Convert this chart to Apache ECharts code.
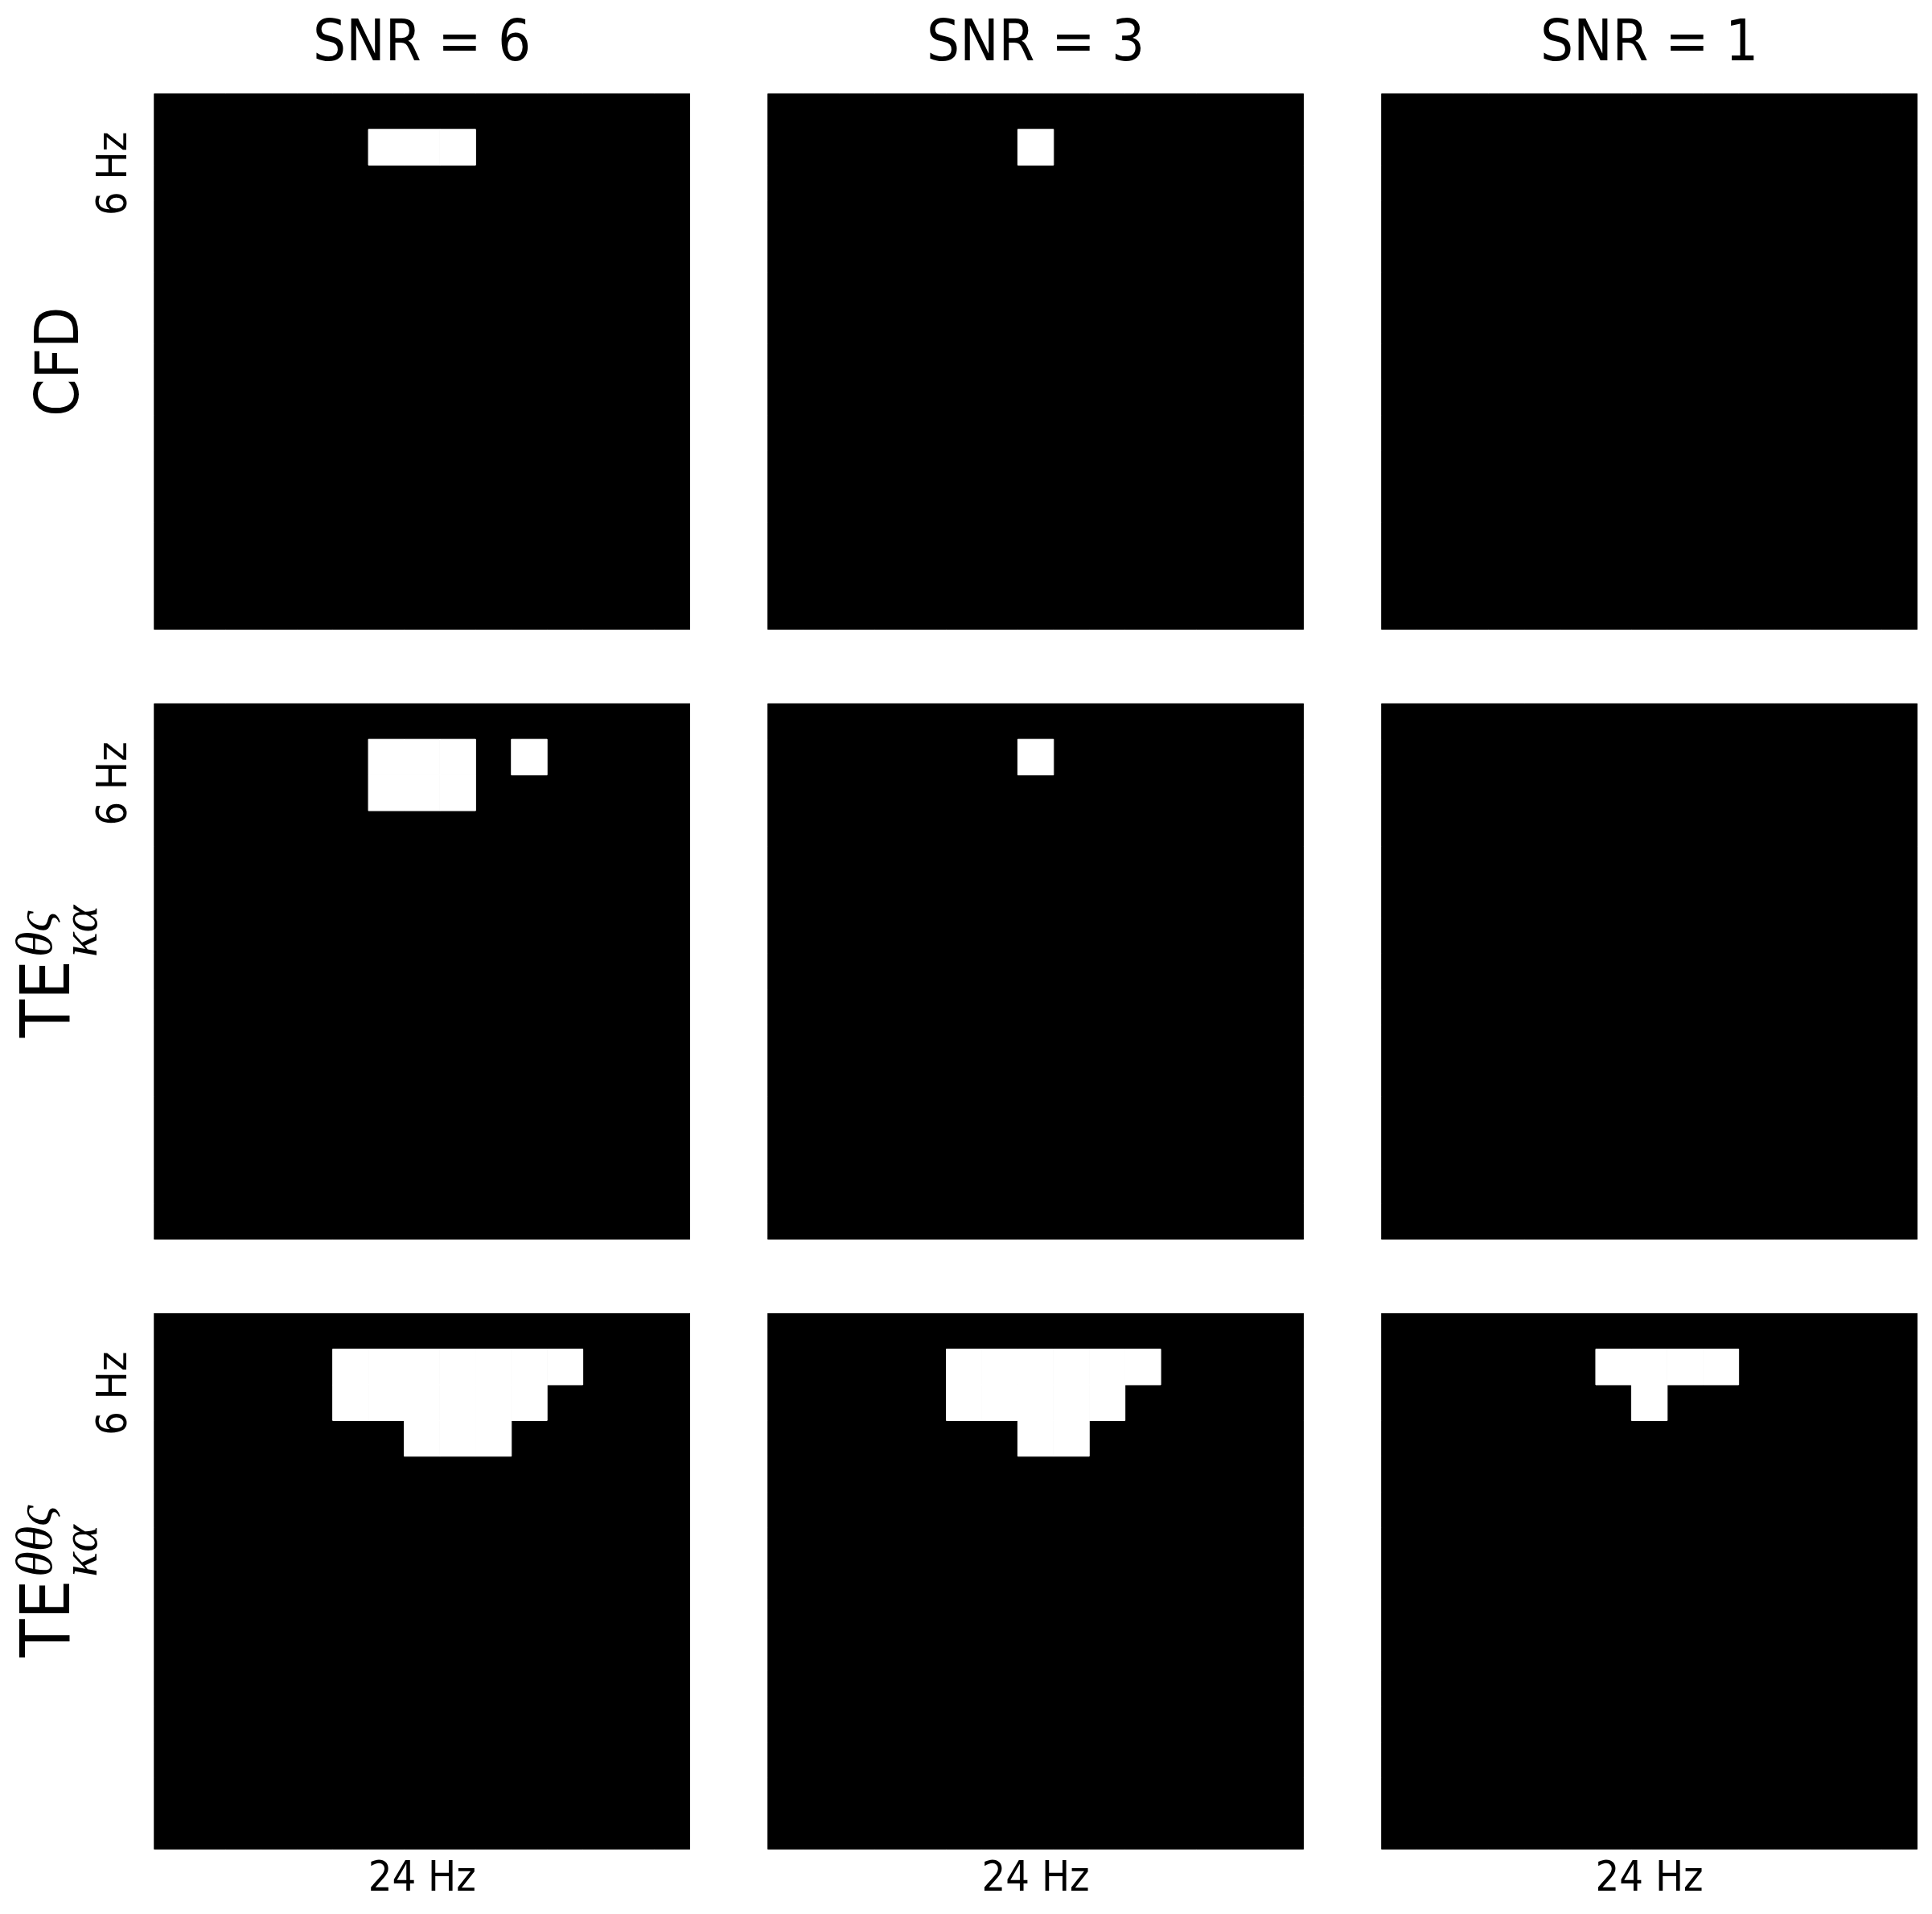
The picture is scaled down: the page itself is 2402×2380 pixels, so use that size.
<!DOCTYPE html>
<html>
<head>
<meta charset="utf-8">
<script src="https://cdn.jsdelivr.net/npm/echarts@6/dist/echarts.min.js"></script>
<style>
html,body{margin:0;padding:0;background:#fff;}
#chart{width:2402px;height:2380px;}
</style>
</head>
<body>
<div id="chart"></div>
<script>
// ---- data ----
const snrTitles = ['SNR = 6', 'SNR = 3', 'SNR = 1'];
const rowLabels = [
  { main: 'CFD', sup: '', sub: '' },
  { main: 'TE', sup: 'θς', sub: 'κα' },
  { main: 'TE', sup: 'θθς', sub: 'κα' }
];
const gridCells = 15;              // 15 x 15 cells per panel
const xTickValues = [7.5];
const xTickLabels = ['24 Hz'];
const yTickValues = [2.24];
const yTickLabels = ['6 Hz'];

// white (significant) cells [column, row] per panel; row 0 = top
const cfdSnr6 = [[6,1],[7,1],[8,1]];
const cfdSnr3 = [[7,1]];
const cfdSnr1 = [];
const teSnr6 = [[6,1],[7,1],[8,1],[10,1],[6,2],[7,2],[8,2]];
const teSnr3 = [[7,1]];
const teSnr1 = [];
const te2Snr6 = [[5,1],[6,1],[7,1],[8,1],[9,1],[10,1],[11,1],
                 [5,2],[6,2],[7,2],[8,2],[9,2],[10,2],
                 [7,3],[8,3],[9,3]];
const te2Snr3 = [[5,1],[6,1],[7,1],[8,1],[9,1],[10,1],
                 [5,2],[6,2],[7,2],[8,2],[9,2],
                 [7,3],[8,3]];
const te2Snr1 = [[6,1],[7,1],[8,1],[9,1],
                 [7,2]];
const panels = [
  [cfdSnr6, cfdSnr3, cfdSnr1],
  [teSnr6, teSnr3, teSnr1],
  [te2Snr6, te2Snr3, te2Snr1]
];

// ---- layout ----
const colLeft = [191.5, 954.4, 1717.4];
const rowTop = [116.4, 874.8, 1633.1];
const panelSize = 666.4;
const SANS = '"DejaVu Sans Condensed", "Liberation Sans Narrow", "DejaVu Sans", sans-serif';
const SERIF = '"Liberation Serif", "DejaVu Serif", serif';

function buildMatrix(whites) {
  const set = new Set(whites.map(c => c[0] + ',' + c[1]));
  const zeros = [], ones = [];
  for (let r = 0; r < gridCells; r++) {
    for (let c = 0; c < gridCells; c++) {
      if (set.has(c + ',' + r)) ones.push([c, r, 1]);
      else zeros.push([c, r, 0]);
    }
  }
  return zeros.concat(ones);
}

const grids = [], xAxes = [], yAxes = [], series = [];
for (let r = 0; r < 3; r++) {
  for (let c = 0; c < 3; c++) {
    const idx = grids.length;
    grids.push({
      left: colLeft[c], top: rowTop[r], width: panelSize, height: panelSize,
      show: true, backgroundColor: '#000', borderWidth: 0, containLabel: false
    });
    xAxes.push({
      gridIndex: idx, type: 'value', min: 0, max: gridCells,
      axisLine: { show: false }, axisTick: { show: false }, splitLine: { show: false },
      axisLabel: {
        show: r === 2, customValues: xTickValues,
        formatter: v => xTickLabels[xTickValues.indexOf(v)] || '',
        fontSize: 52, fontFamily: SANS, color: '#000', margin: 12
      }
    });
    yAxes.push({
      gridIndex: idx, type: 'value', min: 0, max: gridCells, inverse: true,
      axisLine: { show: false }, axisTick: { show: false }, splitLine: { show: false },
      axisLabel: {
        show: c === 0, customValues: yTickValues, rotate: 90,
        formatter: v => yTickLabels[yTickValues.indexOf(v)] || '',
        fontSize: 52, fontFamily: SANS, color: '#000', margin: 22
      }
    });
    series.push({
      type: 'custom', xAxisIndex: idx, yAxisIndex: idx,
      data: buildMatrix(panels[r][c]),
      renderItem: function (params, api) {
        const x = api.value(0), y = api.value(1), v = api.value(2);
        const p0 = api.coord([x, y]);
        const p1 = api.coord([x + 1, y + 1]);
        const col = v ? '#ffffff' : '#000000';
        return {
          type: 'rect',
          z2: v ? 10 : 0,
          shape: {
            x: Math.min(p0[0], p1[0]), y: Math.min(p0[1], p1[1]),
            width: Math.abs(p1[0] - p0[0]), height: Math.abs(p1[1] - p0[1])
          },
          style: v ? { fill: col, stroke: col, lineWidth: 1 } : { fill: col }
        };
      },
      encode: { x: 0, y: 1 },
      silent: true
    });
  }
}

// ---- text graphics ----
const graphics = [];
snrTitles.forEach((t, c) => {
  graphics.push({
    type: 'text', x: colLeft[c] + panelSize / 2, y: 56,
    style: { text: t, font: '72px ' + SANS, fill: '#000', textAlign: 'center', textVerticalAlign: 'middle' }
  });
});

const measureCtx = document.createElement('canvas').getContext('2d');
function measure(text, font) { measureCtx.font = font; return measureCtx.measureText(text).width; }

rowLabels.forEach((lab, r) => {
  const cy = rowTop[r] + panelSize / 2;
  if (!lab.sup && !lab.sub) {
    graphics.push({
      type: 'text', x: 78, y: cy, rotation: Math.PI / 2,
      style: { text: lab.main, font: '74px ' + SANS, fill: '#000', textAlign: 'center', textVerticalAlign: 'middle' }
    });
  } else {
    const mainFont = '86px ' + SANS;
    const scrFont = 'italic 64px ' + SERIF;
    const wm = measure(lab.main, mainFont);
    const ws = measure(lab.sup, scrFont);
    const wb = measure(lab.sub, scrFont);
    const gap = 4;
    const total = wm + gap + Math.max(ws, wb);
    graphics.push({
      type: 'group', x: 93, y: cy + total / 2, rotation: Math.PI / 2,
      children: [
        { type: 'text', x: 0, y: -0.34 * 86,
          style: { text: lab.main, font: mainFont, fill: '#000', textAlign: 'left', textVerticalAlign: 'middle' } },
        { type: 'text', x: wm + gap, y: -32 - 0.22 * 64,
          style: { text: lab.sup, font: scrFont, fill: '#000', textAlign: 'left', textVerticalAlign: 'middle' } },
        { type: 'text', x: wm + gap, y: 24 - 0.22 * 64,
          style: { text: lab.sub, font: scrFont, fill: '#000', textAlign: 'left', textVerticalAlign: 'middle' } }
      ]
    });
  }
});

const chart = echarts.init(document.getElementById('chart'), null, { renderer: 'canvas' });
chart.setOption({
  animation: false,
  backgroundColor: '#fff',
  grid: grids,
  xAxis: xAxes,
  yAxis: yAxes,
  series: series,
  graphic: graphics
});
</script>
</body>
</html>
